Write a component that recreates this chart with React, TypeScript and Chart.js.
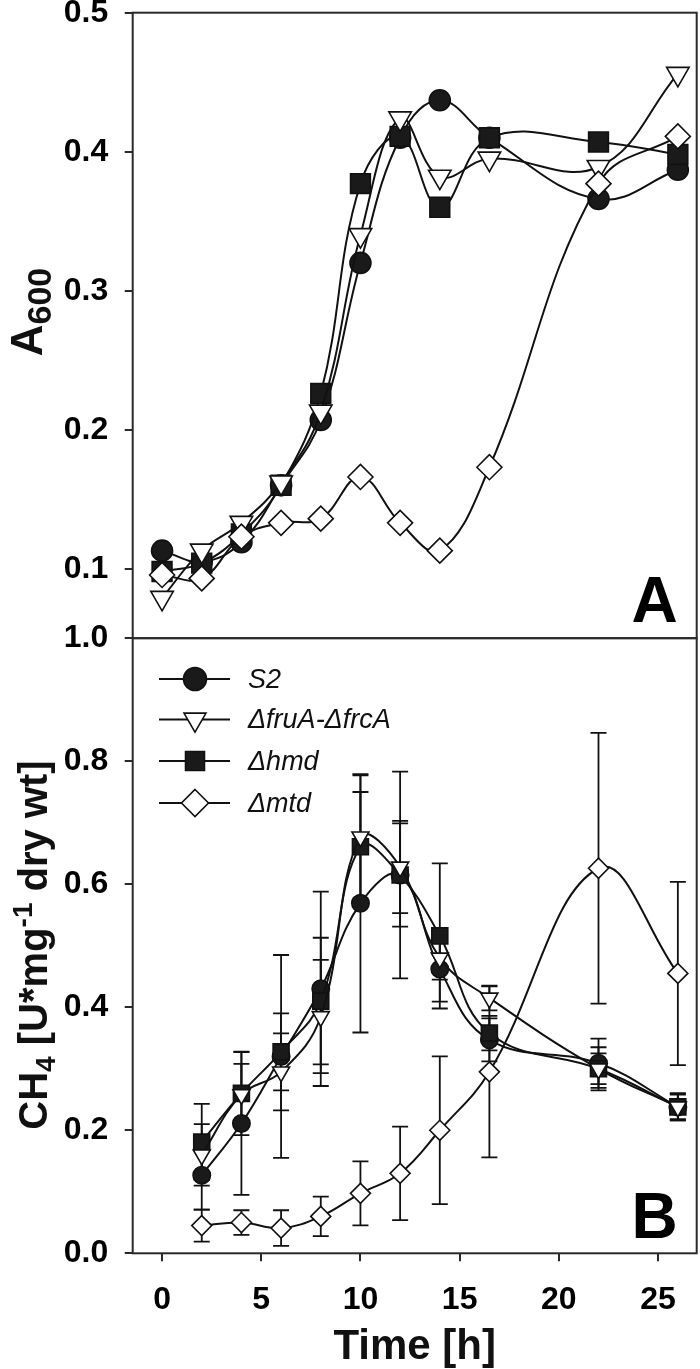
import React, { useEffect, useRef } from 'react';
import { Chart, registerables } from 'chart.js';

Chart.register(...registerables);

// ---------------- data ----------------
const seriesNames = ['S2', 'ΔfruA-ΔfrcA', 'Δhmd', 'Δmtd'];

// Panel A: A600 growth
const timesA = [0, 2, 4, 6, 8, 10, 12, 14, 16.5, 22, 26];
const a600S2 = [0.113, 0.105, 0.119, 0.160, 0.207, 0.320, 0.410, 0.437, 0.410, 0.366, 0.387];
const a600Fru = [0.079, 0.113, 0.133, 0.162, 0.213, 0.340, 0.424, 0.382, 0.395, 0.389, 0.456];
const a600Hmd = [0.098, 0.104, 0.125, 0.160, 0.226, 0.377, 0.411, 0.360, 0.410, 0.407, 0.398];
const a600Mtd = [0.0955, 0.093, 0.123, 0.133, 0.136, 0.166, 0.133, 0.113, 0.173, 0.377, 0.411];

// Panel B: CH4 formation
const timesB = [2, 4, 6, 8, 10, 12, 14, 16.5, 22, 26];
const ch4S2 = [0.127, 0.211, 0.320, 0.430, 0.569, 0.615, 0.462, 0.347, 0.309, 0.238];
const ch4S2Err = [0.056, 0.116, 0.165, 0.158, 0.210, 0.168, 0.053, 0.035, 0.040, 0.022];
const ch4Fru = [0.160, 0.258, 0.295, 0.385, 0.677, 0.628, 0.480, 0.415, 0.300, 0.238];
const ch4FruErr = [0.050, 0.050, 0.0625, 0.092, 0.100, 0.075, 0.035, 0.020, 0.035, 0.020];
const ch4Hmd = [0.181, 0.260, 0.3275, 0.410, 0.661, 0.615, 0.516, 0.358, 0.300, 0.238];
const ch4HmdErr = [0.062, 0.068, 0.0625, 0.103, 0.089, 0.084, 0.118, 0.028, 0.025, 0.022];
const ch4Mtd = [0.045, 0.050, 0.041, 0.060, 0.0975, 0.130, 0.200, 0.295, 0.626, 0.455];
const ch4MtdErr = [0.026, 0.020, 0.029, 0.032, 0.052, 0.076, 0.120, 0.139, 0.220, 0.149];

const xTicks = [0, 5, 10, 15, 20, 25];
const yTicksA = [0.1, 0.2, 0.3, 0.4, 0.5];
const yTicksB = [0.0, 0.2, 0.4, 0.6, 0.8, 1.0];

// ---------------- styling ----------------
const FONT = "'Liberation Sans', Arial, Helvetica, sans-serif";
const INK = '#111111';
const FRAME = '#2a2a2a';

const STYLES = [
  { shape: 'circle', fill: '#1a1a1a', order: 3 },
  { shape: 'triangleDown', fill: '#ffffff', order: 1 },
  { shape: 'square', fill: '#1a1a1a', order: 2 },
  { shape: 'diamond', fill: '#ffffff', order: 0 },
];

const X_MIN = -1.48;
const X_MAX = 26.95;
const AREA_LEFT = 132.7;
const AREA_RIGHT = 696.7;

function pointStyleOf(shape: string) {
  if (shape === 'circle') return 'circle';
  if (shape === 'triangleDown') return 'triangle';
  if (shape === 'square') return 'rect';
  return 'rectRot';
}

function drawMarker(ctx: CanvasRenderingContext2D, shape: string, x: number, y: number, r: number, fill: string) {
  ctx.beginPath();
  if (shape === 'circle') {
    ctx.arc(x, y, r, 0, Math.PI * 2);
  } else if (shape === 'triangleDown') {
    ctx.moveTo(x, y + r);
    ctx.lineTo(x + r * Math.sqrt(3) / 2, y - r / 2);
    ctx.lineTo(x - r * Math.sqrt(3) / 2, y - r / 2);
    ctx.closePath();
  } else if (shape === 'square') {
    const s = r * Math.SQRT1_2;
    ctx.rect(x - s, y - s, 2 * s, 2 * s);
  } else {
    ctx.moveTo(x, y - r);
    ctx.lineTo(x + r, y);
    ctx.lineTo(x, y + r);
    ctx.lineTo(x - r, y);
    ctx.closePath();
  }
  ctx.fillStyle = fill;
  ctx.fill();
  ctx.lineWidth = 1.6;
  ctx.strokeStyle = INK;
  ctx.stroke();
}

type Seg = { t: string; size: number; weight: string; dy: number; style?: string };

function drawRich(ctx: CanvasRenderingContext2D, segs: Seg[], cx: number, cy: number, rotate: boolean) {
  ctx.save();
  ctx.translate(cx, cy);
  if (rotate) ctx.rotate(-Math.PI / 2);
  ctx.textBaseline = 'alphabetic';
  ctx.textAlign = 'left';
  ctx.fillStyle = INK;
  let total = 0;
  const widths = segs.map((s) => {
    ctx.font = `${s.style || 'normal'} ${s.weight} ${s.size}px ${FONT}`;
    const w = ctx.measureText(s.t).width;
    total += w;
    return w;
  });
  let x = -total / 2;
  segs.forEach((s, i) => {
    ctx.font = `${s.style || 'normal'} ${s.weight} ${s.size}px ${FONT}`;
    ctx.fillText(s.t, x, s.dy);
    x += widths[i];
  });
  ctx.restore();
}

const errorBarPlugin = {
  id: 'errorBars',
  beforeDatasetsDraw(chart: any) {
    const ctx = chart.ctx as CanvasRenderingContext2D;
    const xs = chart.scales.x;
    const ys = chart.scales.y;
    ctx.save();
    ctx.strokeStyle = INK;
    ctx.lineWidth = 1.8;
    chart.data.datasets.forEach((ds: any) => {
      if (!ds.errors) return;
      ds.data.forEach((p: any, i: number) => {
        const e = ds.errors[i];
        const px = xs.getPixelForValue(p.x);
        const top = ys.getPixelForValue(p.y + e);
        const bot = ys.getPixelForValue(p.y - e);
        ctx.beginPath();
        ctx.moveTo(px, top);
        ctx.lineTo(px, bot);
        ctx.moveTo(px - 8, top);
        ctx.lineTo(px + 8, top);
        ctx.moveTo(px - 8, bot);
        ctx.lineTo(px + 8, bot);
        ctx.stroke();
      });
    });
    ctx.restore();
  },
};

function framePlugin(panel: 'A' | 'B') {
  return {
    id: 'frame' + panel,
    afterDraw(chart: any) {
      const ctx = chart.ctx as CanvasRenderingContext2D;
      const a = chart.chartArea;
      ctx.save();
      ctx.strokeStyle = FRAME;
      ctx.lineWidth = 2;
      ctx.strokeRect(a.left, a.top, a.right - a.left, a.bottom - a.top);

      // panel letter
      ctx.fillStyle = '#000';
      ctx.font = `bold 64px ${FONT}`;
      ctx.textAlign = 'right';
      ctx.textBaseline = 'alphabetic';
      ctx.fillText(panel, a.right - 19, a.bottom - (panel === 'A' ? 16.5 : 15.3));

      if (panel === 'A') {
        drawRich(
          ctx,
          [
            { t: 'A', size: 44, weight: 'bold', dy: 0 },
            { t: '600', size: 34, weight: 'bold', dy: 9 },
          ],
          42,
          312,
          true
        );
      } else {
        drawRich(
          ctx,
          [
            { t: 'CH', size: 40, weight: 'bold', dy: 0 },
            { t: '4', size: 28, weight: 'bold', dy: 8 },
            { t: ' [U*mg', size: 40, weight: 'bold', dy: 0 },
            { t: '-1', size: 28, weight: 'bold', dy: -15 },
            { t: ' dry wt]', size: 40, weight: 'bold', dy: 0 },
          ],
          47,
          345,
          true
        );
        drawRich(ctx, [{ t: 'Time [h]', size: 42, weight: 'bold', dy: 0 }], (a.left + a.right) / 2, 759, false);

        // legend
        const rowsY = [79, 119.5, 161, 203];
        const legR = [11.5, 12.7, 13.4, 13.5];
        rowsY.forEach((y, i) => {
          ctx.beginPath();
          ctx.strokeStyle = INK;
          ctx.lineWidth = 2;
          ctx.moveTo(159, y);
          ctx.lineTo(230, y);
          ctx.stroke();
          drawMarker(ctx, STYLES[i].shape, 195, y, legR[i], STYLES[i].fill);
          ctx.fillStyle = INK;
          ctx.font = `italic normal 27px ${FONT}`;
          ctx.textAlign = 'left';
          ctx.textBaseline = 'middle';
          ctx.fillText(seriesNames[i], 248, y + 1);
        });
      }
      ctx.restore();
    },
  };
}

function makeDatasets(times: number[], vals: number[][], errs: number[][] | null, radii: number[]) {
  return vals.map((v, i) => ({
    label: seriesNames[i],
    data: times.map((t, j) => ({ x: t, y: v[j] })),
    errors: errs ? errs[i] : undefined,
    borderColor: INK,
    borderWidth: 2,
    tension: 0.4,
    fill: false,
    order: STYLES[i].order,
    pointStyle: pointStyleOf(STYLES[i].shape),
    pointRotation: STYLES[i].shape === 'triangleDown' ? 180 : 0,
    pointRadius: radii[i],
    pointBackgroundColor: STYLES[i].fill,
    pointBorderColor: INK,
    pointBorderWidth: 1.6,
  }));
}

const tickFont = { family: FONT, size: 32, weight: 'bold' as const };

function yScale(min: number, max: number, ticks: number[]) {
  return {
    type: 'linear' as const,
    position: 'left' as const,
    min,
    max,
    afterBuildTicks: (scale: any) => {
      scale.ticks = ticks.map((v) => ({ value: v }));
    },
    afterFit: (scale: any) => {
      scale.width = AREA_LEFT;
      scale.paddingTop = 0;
      scale.paddingBottom = 0;
      scale.paddingLeft = 0;
      scale.paddingRight = 0;
    },
    ticks: {
      font: tickFont,
      color: '#000',
      padding: 16.4,
      callback: (v: any) => Number(v).toFixed(1),
    },
    grid: {
      display: true,
      drawOnChartArea: false,
      drawTicks: true,
      tickLength: 8,
      tickWidth: 2,
      tickColor: FRAME,
      color: FRAME,
      lineWidth: 2,
    },
    border: { display: false },
  };
}

function xScale(show: boolean) {
  return {
    type: 'linear' as const,
    position: 'bottom' as const,
    display: show,
    min: X_MIN,
    max: X_MAX,
    afterBuildTicks: (scale: any) => {
      scale.ticks = xTicks.map((v) => ({ value: v }));
    },
    afterFit: (scale: any) => {
      scale.height = show ? 115.7 : 0;
      scale.paddingLeft = 0;
      scale.paddingRight = 0;
      scale.paddingTop = 0;
      scale.paddingBottom = 0;
    },
    ticks: {
      font: tickFont,
      color: '#000',
      padding: 20,
      maxRotation: 0,
      callback: (v: any) => String(v),
    },
    grid: {
      display: true,
      drawOnChartArea: false,
      drawTicks: true,
      tickLength: 8,
      tickWidth: 2,
      tickColor: FRAME,
      color: FRAME,
      lineWidth: 2,
    },
    border: { display: false },
  };
}

// nudge the layout padding until the plot area sits where the reference frame is
function pinArea(chart: any) {
  for (let k = 0; k < 4; k++) {
    const a = chart.chartArea;
    const p = chart.options.layout.padding;
    const dr = a.right - AREA_RIGHT;
    const dl = a.left - AREA_LEFT;
    if (Math.abs(dr) < 0.05 && Math.abs(dl) < 0.05) break;
    p.right = p.right + dr;
    p.left = p.left - dl;
    chart.update();
  }
}

export default function App() {
  const refA = useRef<HTMLCanvasElement>(null);
  const refB = useRef<HTMLCanvasElement>(null);

  useEffect(() => {
    document.body.style.margin = '0';
    const common = {
      responsive: false,
      animation: false as const,
      devicePixelRatio: 1,
      plugins: { legend: { display: false }, tooltip: { enabled: false }, title: { display: false } },
      events: [] as any[],
    };

    const chartA = new Chart(refA.current as HTMLCanvasElement, {
      type: 'line',
      data: {
        datasets: makeDatasets(timesA, [a600S2, a600Fru, a600Hmd, a600Mtd], null, [10.5, 13, 14, 12.5]) as any,
      },
      options: {
        ...common,
        layout: { autoPadding: false, padding: { top: 12.7, left: 0, right: 3.3, bottom: 660 - 638.2 } },
        scales: { x: xScale(false) as any, y: yScale(0.05, 0.5, yTicksA) as any },
      },
      plugins: [errorBarPlugin, framePlugin('A')],
    });

    const chartB = new Chart(refB.current as HTMLCanvasElement, {
      type: 'line',
      data: {
        datasets: makeDatasets(
          timesB,
          [ch4S2, ch4Fru, ch4Hmd, ch4Mtd],
          [ch4S2Err, ch4FruErr, ch4HmdErr, ch4MtdErr],
          [8.7, 9.8, 11.3, 10]
        ) as any,
      },
      options: {
        ...common,
        layout: { autoPadding: false, padding: { top: 38.2, left: 0, right: 3.3, bottom: 0 } },
        scales: { x: xScale(true) as any, y: yScale(0, 1.0, yTicksB) as any },
      },
      plugins: [errorBarPlugin, framePlugin('B')],
    });

    pinArea(chartA);
    pinArea(chartB);

    return () => {
      chartA.destroy();
      chartB.destroy();
    };
  }, []);

  return (
    <div style={{ position: 'relative', width: 700, height: 1369, background: '#ffffff', overflow: 'hidden' }}>
      <canvas ref={refA} width={700} height={660} style={{ position: 'absolute', left: 0, top: 0 }} />
      <canvas ref={refB} width={700} height={769} style={{ position: 'absolute', left: 0, top: 600 }} />
    </div>
  );
}
